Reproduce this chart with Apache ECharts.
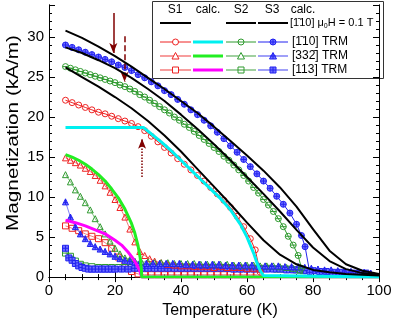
<!DOCTYPE html>
<html><head><meta charset="utf-8">
<script src="https://cdn.jsdelivr.net/npm/echarts@6/dist/echarts.min.js"></script>
<style>html,body{margin:0;padding:0;background:#fff}#c{width:395px;height:324px}</style>
</head><body><div id="c"></div>
<script>
// ---------- data (T in K, M in kA/m) ----------
const xTicks = [0, 20, 40, 60, 80, 100];
const yTicks = [0, 5, 10, 15, 20, 25, 30];

// calculated curves, mu0H = 0.1 T along [-110]
const calcS1 = [[5,26.2],[10,25.0],[15,23.8],[20,22.5],[25,21.1],[30,19.5],[35,17.7],[40,15.7],[45,13.5],[50,11.3],[55,9.1],[60,6.8],[65,4.6],[70,2.8],[75,1.6],[80,0.9],[85,0.6],[90,0.4],[95,0.3],[100,0.2]];
const calcS2 = [[5,28.7],[10,28.0],[15,27.1],[20,26.1],[25,24.9],[30,23.5],[35,22.0],[40,20.3],[45,18.5],[50,16.6],[55,14.6],[60,12.5],[65,10.4],[70,8.2],[75,5.9],[80,3.7],[85,2.0],[90,1.0],[95,0.5],[100,0.25]];
const calcS3 = [[5,30.8],[10,29.9],[15,28.8],[20,27.6],[25,26.3],[30,24.9],[35,23.5],[40,22.0],[45,20.5],[50,18.8],[55,17.0],[60,15.2],[65,13.3],[70,11.2],[75,8.8],[80,6.0],[85,3.3],[90,1.6],[95,0.8],[100,0.4]];

// calculated TRM curves
const calc110 = [[5,18.7],[28.6,18.7],[31,17.9],[34,16.9],[37,15.8],[40,14.6],[43,13.4],[46,12.2],[49,11.0],[52,9.8],[55,8.4],[58,6.6],[60,5.0],[62,3.0],[63,1.8],[64,0.8],[65,0.2],[65.5,0],[100,0]];
const calc332 = [[5,15.3],[7,15.0],[9,14.6],[11,14.1],[13,13.5],[15,12.8],[17,12.0],[19,11.0],[21,9.9],[23,8.5],[25,6.7],[26,5.5],[27,3.9],[27.6,2.5],[28,1.0],[28.1,0],[100,0]];
const calc113 = [[5,7.1],[8,6.8],[11,6.4],[14,5.9],[17,5.4],[20,4.6],[22,4.0],[24,3.1],[25.5,2.3],[26.5,1.6],[27.5,0.8],[28.1,0],[100,0]];

// measured TRM, sample S1
const s1_110 = [[5,22.1],[7,21.8],[9,21.5],[11,21.2],[13,20.9],[15,20.6],[17,20.4],[19,20.1],[21,19.8],[23,19.5],[25,19.2],[27,18.8],[29,18.3],[31,17.6],[33,16.9],[35,16.2],[37,15.5],[39,14.8],[41,14.1],[43,13.4],[45,12.7],[47,12.0],[49,11.2],[51,10.4],[53,9.6],[55,8.7],[57,7.6],[59,6.3],[61,4.8],[62.5,3.4],[64,0.6]];
const s1_332 = [[5,14.9],[6.5,14.6],[8,14.3],[9.5,14.0],[11,13.6],[12.5,13.2],[14,12.7],[15.5,12.1],[17,11.4],[18.5,10.6],[20,9.7],[21.5,8.7],[23,7.5],[24.5,6.0],[26,4.4],[27.5,3.2],[29,2.7],[30.5,2.3],[32,2.0],[34,1.8],[36,1.6],[38,1.5],[40,1.4],[42,1.4],[44,1.3],[46,1.3],[48,1.3],[50,1.2],[52,1.3],[54,1.2],[56,1.2],[58,1.2],[60,1.1],[62,1.1],[64,1.0]];
const s1_113 = [[5,6.4],[7,6.1],[9,5.8],[11,5.4],[13,5.1],[15,4.8],[17,4.3],[19,3.6],[21,2.5],[23,1.5],[25,0.7],[27,0.4],[29,0.3],[31,0.3],[33,0.3],[35,0.3],[37,0.3],[39,0.3],[41,0.3],[43,0.3],[45,0.3],[47,0.3],[49,0.3],[51,0.3],[53,0.3],[55,0.3],[57,0.3],[59,0.3],[61,0.3],[63,0.3]];

// measured TRM, sample S2
const s2_110 = [[5,26.3],[6.5,26.1],[8,25.9],[9.5,25.7],[11,25.5],[12.5,25.3],[14,25.1],[15.5,24.9],[17,24.7],[18.5,24.5],[20,24.3],[21.5,24.0],[23,23.8],[24.5,23.5],[26,23.2],[27.5,22.8],[29,22.5],[30.5,22.1],[32,21.7],[33.5,21.3],[35,20.9],[36.5,20.5],[38,20.0],[39.5,19.6],[41,19.1],[42.5,18.7],[44,18.2],[45.5,17.7],[47,17.2],[48.5,16.7],[50,16.2],[51.5,15.7],[53,15.1],[54.5,14.6],[56,14.0],[57.5,13.4],[59,12.7],[60.5,12.0],[62,11.2],[63.5,10.5],[65,9.7],[66.5,9.0],[68,8.2],[69.5,7.3],[71,6.3],[72.5,5.1],[74,4.0],[75.5,2.7],[76.5,1.1]];
const s2_332 = [[5,12.8],[6.5,11.9],[8,10.9],[9.5,10.1],[11,9.3],[12.5,8.4],[14,7.3],[15.5,6.3],[17,5.4],[18.5,4.5],[20,3.6],[21.5,2.9],[23,2.4],[24.5,2.2],[26,2.0],[28,1.9],[30,1.9],[32,1.8],[34,1.8],[36,1.8],[38,1.7],[40,1.7],[42,1.7],[44,1.7],[46,1.6],[48,1.6],[50,1.6],[52,1.6],[54,1.6],[56,1.5],[58,1.5],[60,1.5],[62,1.5],[64,1.4],[66,1.4],[68,1.4],[70,1.3],[72,1.2],[74,1.1],[76,0.9]];
const s2_113 = [[5,3.0],[6.5,2.6],[8,2.0],[9.5,1.6],[11,1.4],[13,1.3],[15,1.2],[17,1.2],[19,1.2],[21,1.2],[23,1.2],[25,1.2],[27,1.2],[29,1.2],[31,1.2],[33,1.2],[35,1.2],[37,1.2],[39,1.2],[41,1.2],[43,1.2],[45,1.2],[47,1.2],[49,1.2],[51,1.2],[53,1.2],[55,1.2],[57,1.1],[59,1.1],[61,1.1],[63,1.1],[65,1.1],[67,1.1],[69,1.0],[71,1.0],[73,1.0],[75,0.9],[77,0.8]];

// measured TRM, sample S3
const s3_110 = [[5,29.0],[7,28.7],[9,28.4],[11,28.1],[13,27.8],[15,27.5],[17,27.2],[19,26.9],[21,26.5],[23,26.2],[25,25.8],[27,25.3],[29,24.9],[31,24.4],[33,23.9],[35,23.3],[37,22.8],[39,22.2],[41,21.6],[43,20.9],[45,20.3],[47,19.6],[49,18.9],[51,18.1],[53,17.3],[55,16.4],[57,15.6],[59,14.7],[61,13.8],[63,12.9],[65,12.0],[67,11.1],[69,10.1],[71,9.1],[73,8.0],[75,6.6],[76.5,5.2],[77.6,3.8],[79,0.6]];
const s3_332 = [[5,9.4],[6.5,7.5],[8,6.3],[9.5,5.4],[11,4.8],[12.5,4.2],[14,3.8],[15.5,3.5],[17,3.2],[18.5,2.9],[20,2.6],[21.5,2.3],[23,2.1],[24.5,2.0],[26,1.9],[27.5,1.8],[29.5,1.7],[31.5,1.7],[33.5,1.7],[35.5,1.7],[37.5,1.7],[39.5,1.7],[41.5,1.6],[43.5,1.6],[45.5,1.6],[47.5,1.6],[49.5,1.6],[51.5,1.6],[53.5,1.5],[55.5,1.5],[57.5,1.5],[59.5,1.5],[61.5,1.5],[63.5,1.4],[65.5,1.4],[67.5,1.4],[69.5,1.4],[71.5,1.3],[73.5,1.3],[75.5,1.3],[77.5,1.2],[79.5,1.1],[81.5,1.0],[83.5,0.9],[85.5,0.9],[87.5,0.8],[89.5,0.7],[91.5,0.7],[93.5,0.6],[95.5,0.6],[97.5,0.5]];
const s3_113 = [[5,3.6],[6,2.4],[7,2.1],[8,1.7],[9,1.4],[10,1.2],[11,1.1],[12,1.0],[13,1.0],[14,1.0],[15,1.0],[16,1.0],[17,1.0],[18,1.0],[19,1.0],[20,1.0],[22,1.0],[24,1.0],[26,1.1],[28,1.1],[30,1.1],[32,1.1],[34,1.1],[36,1.1],[38,1.1],[40,1.1],[42,1.1],[44,1.1],[46,1.1],[48,1.1],[50,1.1],[52,1.1],[54,1.1],[56,1.0],[58,1.0],[60,1.0],[62,1.0],[64,1.0],[66,1.0],[68,1.0],[70,1.0],[72,0.9],[74,0.9],[76,0.9],[78,0.8],[80,0.8],[82,0.7],[84,0.7],[86,0.6],[88,0.6],[90,0.6],[92,0.5],[94,0.5],[96,0.5]];

// arrows (annotation positions in data units)
const arrows = [
  {x: 19.5, from: 33.0, to: 28.0, type: 'solid'},
  {x: 22.9, from: 30.1, to: 24.4, type: 'dashed'},
  {x: 28.2, from: 12.5, to: 17.3, type: 'dotted'}
];

// ---------- styles ----------
const FONT = "'Liberation Sans', Arial, sans-serif";
const C_RED = '#ee2222', C_RED_L = '#f47c7c';
const C_GRN = '#2e9a2e', C_GRN_L = '#80c080';
const C_BLU = '#2323f0', C_BLU_L = '#8080f6', C_BLU_F = '#7070ff';
const C_CYAN = '#00f0f0', C_LIME = '#22ee22', C_MAG = '#ff00ff';
const C_ARROW = '#800000';
const NOFILL = 'rgba(0,0,0,0)';

const P_CIRC = 'M0,10A10,10,0,1,1,20,10A10,10,0,1,1,0,10Z';
const P_TRI = 'M10,0L20,18L0,18Z';
const P_SQ = 'M0,0L20,0L20,20L0,20Z';
const P_HLINE = 'M0,10L20,10';
const P_VLINE = 'M10,0L10,20';
const SYM = {
  circ: 'path://' + P_CIRC,
  circMinus: 'path://' + P_CIRC + P_HLINE,
  circPlus: 'path://' + P_CIRC + P_HLINE + P_VLINE,
  tri: 'path://' + P_TRI,
  triPlus: 'path://' + P_TRI + 'M10,0L10,18M4,11L16,11',
  sq: 'path://' + P_SQ,
  sqMinus: 'path://' + P_SQ + P_HLINE,
  sqPlus: 'path://' + P_SQ + P_HLINE + P_VLINE
};

function trm(name, data, sym, stroke, fill, lineColor, size) {
  return {
    type: 'line', name: name, data: data, symbol: sym, symbolSize: size || 6,
    itemStyle: {color: fill, borderColor: stroke, borderWidth: 1},
    lineStyle: {color: lineColor, width: 1}, z: 3, silent: true
  };
}
function calc(name, data, color, width, z) {
  return {
    type: 'line', name: name, data: data, showSymbol: false, symbol: 'none',
    smooth: false, lineStyle: {color: color, width: width, join: 'round'}, z: z, silent: true
  };
}

const series = [
  trm('S1 [113]', s1_113, SYM.sq, C_RED, NOFILL, C_RED_L),
  trm('S2 [113]', s2_113, SYM.sqMinus, C_GRN, NOFILL, C_GRN_L),
  trm('S3 [113]', s3_113, SYM.sqPlus, C_BLU, C_BLU_F, C_BLU_L),
  trm('S1 [332]', s1_332, SYM.tri, C_RED, NOFILL, C_RED_L),
  trm('S2 [332]', s2_332, SYM.tri, C_GRN, NOFILL, C_GRN_L),
  trm('S3 [332]', s3_332, SYM.triPlus, C_BLU, C_BLU_F, C_BLU_L),
  calc('calc [113]', calc113, C_MAG, 3, 4),
  calc('calc [332]', calc332, C_LIME, 3, 4),
  calc('calc [110]', calc110, C_CYAN, 3, 4),
  trm('S1 [110]', s1_110, SYM.circ, C_RED, NOFILL, C_RED),
  trm('S2 [110]', s2_110, SYM.circMinus, C_GRN, NOFILL, C_GRN),
  trm('S3 [110]', s3_110, SYM.circPlus, C_BLU, C_BLU_F, C_BLU),
  calc('S1 field', calcS1, '#000', 2, 6),
  calc('S2 field', calcS2, '#000', 2, 6),
  calc('S3 field', calcS3, '#000', 2, 6)
];
// arrows as markLines on an empty helper series
series.push({
  type: 'line', data: [], silent: true, z: 7,
  markLine: {
    silent: true, animation: false, symbol: ['none', 'arrow'], symbolSize: [6, 10],
    label: {show: false},
    data: arrows.map(a => [
      {coord: [a.x, a.from], lineStyle: {color: C_ARROW, width: 1.5, type: a.type}},
      {coord: [a.x, a.to]}
    ])
  }
});

// ---------- legend and y title (graphic) ----------
const LX = {s1: [160, 191], calc: [193, 223], s2: [226, 256], s3: [258, 288]};
const ROWS = {field: 23, r110: 42, r332: 56, r113: 70};
const legendEls = [];
const measure = (function () {
  const ctx = document.createElement('canvas').getContext('2d');
  return function (s, size) { ctx.font = size + 'px ' + FONT; return ctx.measureText(s).width; };
})();
legendEls.push({type: 'rect', shape: {x: 152.5, y: 1.5, width: 231, height: 77}, style: {fill: '#fff', stroke: '#333', lineWidth: 1}});
function txt(x, y, s, align, size) {
  legendEls.push({type: 'text', x: x, y: y, style: {text: s, font: (size || 12) + 'px ' + FONT, fill: '#000', textAlign: align || 'center', textVerticalAlign: 'middle'}});
}
function seg(col, y, color, w) {
  legendEls.push({type: 'line', shape: {x1: LX[col][0], y1: y, x2: LX[col][1], y2: y}, style: {stroke: color, lineWidth: w}});
}
function mark(col, y, kind, cross, stroke, fill) {
  const cx = (LX[col][0] + LX[col][1]) / 2, r = 3;
  const st = {stroke: stroke, fill: fill, lineWidth: 1};
  if (kind === 'circ') legendEls.push({type: 'circle', shape: {cx: cx, cy: y, r: r}, style: st});
  if (kind === 'sq') legendEls.push({type: 'rect', shape: {x: cx - r, y: y - r, width: 2 * r, height: 2 * r}, style: st});
  if (kind === 'tri') legendEls.push({type: 'polygon', shape: {points: [[cx, y - r - 0.5], [cx + r + 0.5, y + r], [cx - r - 0.5, y + r]]}, style: st});
  if (cross === 'h' || cross === 'p') legendEls.push({type: 'line', shape: {x1: cx - r, y1: y, x2: cx + r, y2: y}, style: {stroke: stroke, lineWidth: 1}});
  if (cross === 'p') legendEls.push({type: 'line', shape: {x1: cx, y1: y - r, x2: cx, y2: y + r}, style: {stroke: stroke, lineWidth: 1}});
}
txt(175, 10, 'S1'); txt(208, 10, 'calc.'); txt(241, 10, 'S2'); txt(272, 10, 'S3'); txt(303, 10, 'calc.');
seg('s1', ROWS.field, '#000', 2); seg('s2', ROWS.field, '#000', 2); seg('s3', ROWS.field, '#000', 2);
(function () {
  const a = '[1\u030410] \u03bc', b = 'H = 0.1 T', fs = 11;
  const wa = measure(a, fs);
  txt(290, ROWS.field, a, 'left', fs);
  txt(290 + wa, ROWS.field + 3, '0', 'left', 7);
  txt(290 + wa + 4, ROWS.field, b, 'left', fs);
})();
seg('s1', ROWS.r110, C_RED, 1); mark('s1', ROWS.r110, 'circ', '', C_RED, '#fff');
seg('calc', ROWS.r110, C_CYAN, 3);
seg('s2', ROWS.r110, C_GRN, 1); mark('s2', ROWS.r110, 'circ', 'h', C_GRN, '#fff');
seg('s3', ROWS.r110, C_BLU, 1); mark('s3', ROWS.r110, 'circ', 'p', C_BLU, C_BLU_F);
txt(292, ROWS.r110, '[1\u030410] TRM', 'left');
seg('s1', ROWS.r332, C_RED_L, 1.5); mark('s1', ROWS.r332, 'tri', '', C_RED, '#fff');
seg('calc', ROWS.r332, C_LIME, 3);
seg('s2', ROWS.r332, C_GRN_L, 1.5); mark('s2', ROWS.r332, 'tri', '', C_GRN, '#fff');
seg('s3', ROWS.r332, C_BLU_L, 1.5); mark('s3', ROWS.r332, 'tri', 'p', C_BLU, C_BLU_F);
txt(292, ROWS.r332, '[332\u0304] TRM', 'left');
seg('s1', ROWS.r113, C_RED_L, 1.5); mark('s1', ROWS.r113, 'sq', '', C_RED, '#fff');
seg('calc', ROWS.r113, C_MAG, 3);
seg('s2', ROWS.r113, C_GRN_L, 1.5); mark('s2', ROWS.r113, 'sq', 'h', C_GRN, '#fff');
seg('s3', ROWS.r113, C_BLU_L, 1.5); mark('s3', ROWS.r113, 'sq', 'p', C_BLU, C_BLU_F);
txt(292, ROWS.r113, '[113] TRM', 'left');

// y-axis title: drawn as rotated text, slightly stretched along its length like the original
const yTitle = {type: 'text', x: 13, y: 133, rotation: Math.PI / 2, scaleX: 1.22, scaleY: 1, z: 50,
  style: {text: 'Magnetization (kA/m)', font: '17px ' + FONT, fill: '#000', textAlign: 'center', textVerticalAlign: 'middle'}};

// ---------- axes ----------
const axisLine = {show: true, lineStyle: {color: '#000', width: 1}};
const tickLbl = {fontSize: 15, color: '#000', fontFamily: FONT};
function xAx(pos, labels) {
  return {
    type: 'value', position: pos, min: xTicks[0], max: xTicks[xTicks.length - 1], interval: xTicks[1] - xTicks[0],
    axisLine: axisLine, splitLine: {show: false},
    axisTick: {show: true, inside: true, length: 5, lineStyle: {color: '#000'}},
    minorTick: {show: true, splitNumber: 4, length: 3, lineStyle: {color: '#000'}},
    axisLabel: labels ? Object.assign({margin: 6}, tickLbl) : {show: false},
    name: labels ? 'Temperature (K)' : '', nameLocation: 'middle', nameGap: 23,
    nameTextStyle: {fontSize: 16, color: '#000', fontFamily: FONT, padding: [0, 0, 0, 12]}
  };
}
function yAx(pos, step, len, labels) {
  return {
    type: 'value', position: pos, min: 0, max: 34, interval: step,
    axisLine: axisLine, splitLine: {show: false},
    axisTick: {show: true, inside: true, length: len, lineStyle: {color: '#000'}},
    axisLabel: labels ? Object.assign({margin: 5, formatter: v => (yTicks.indexOf(v) >= 0 ? String(v) : '')}, tickLbl) : {show: false}
  };
}

const option = {
  animation: false,
  backgroundColor: '#fff',
  grid: {left: 49, right: 16, top: 5, bottom: 40, containLabel: false},
  xAxis: [xAx('bottom', true), xAx('top', false)],
  yAxis: [yAx('left', 1, 3, true), yAx('left', 5, 6, false), yAx('right', 1, 3, false), yAx('right', 5, 6, false)],
  series: series,
  graphic: {elements: [yTitle, {type: 'group', z: 100, children: legendEls}]}
};
const chart = echarts.init(document.getElementById('c'), null, {renderer: 'canvas'});
chart.setOption(option);
</script></body></html>
